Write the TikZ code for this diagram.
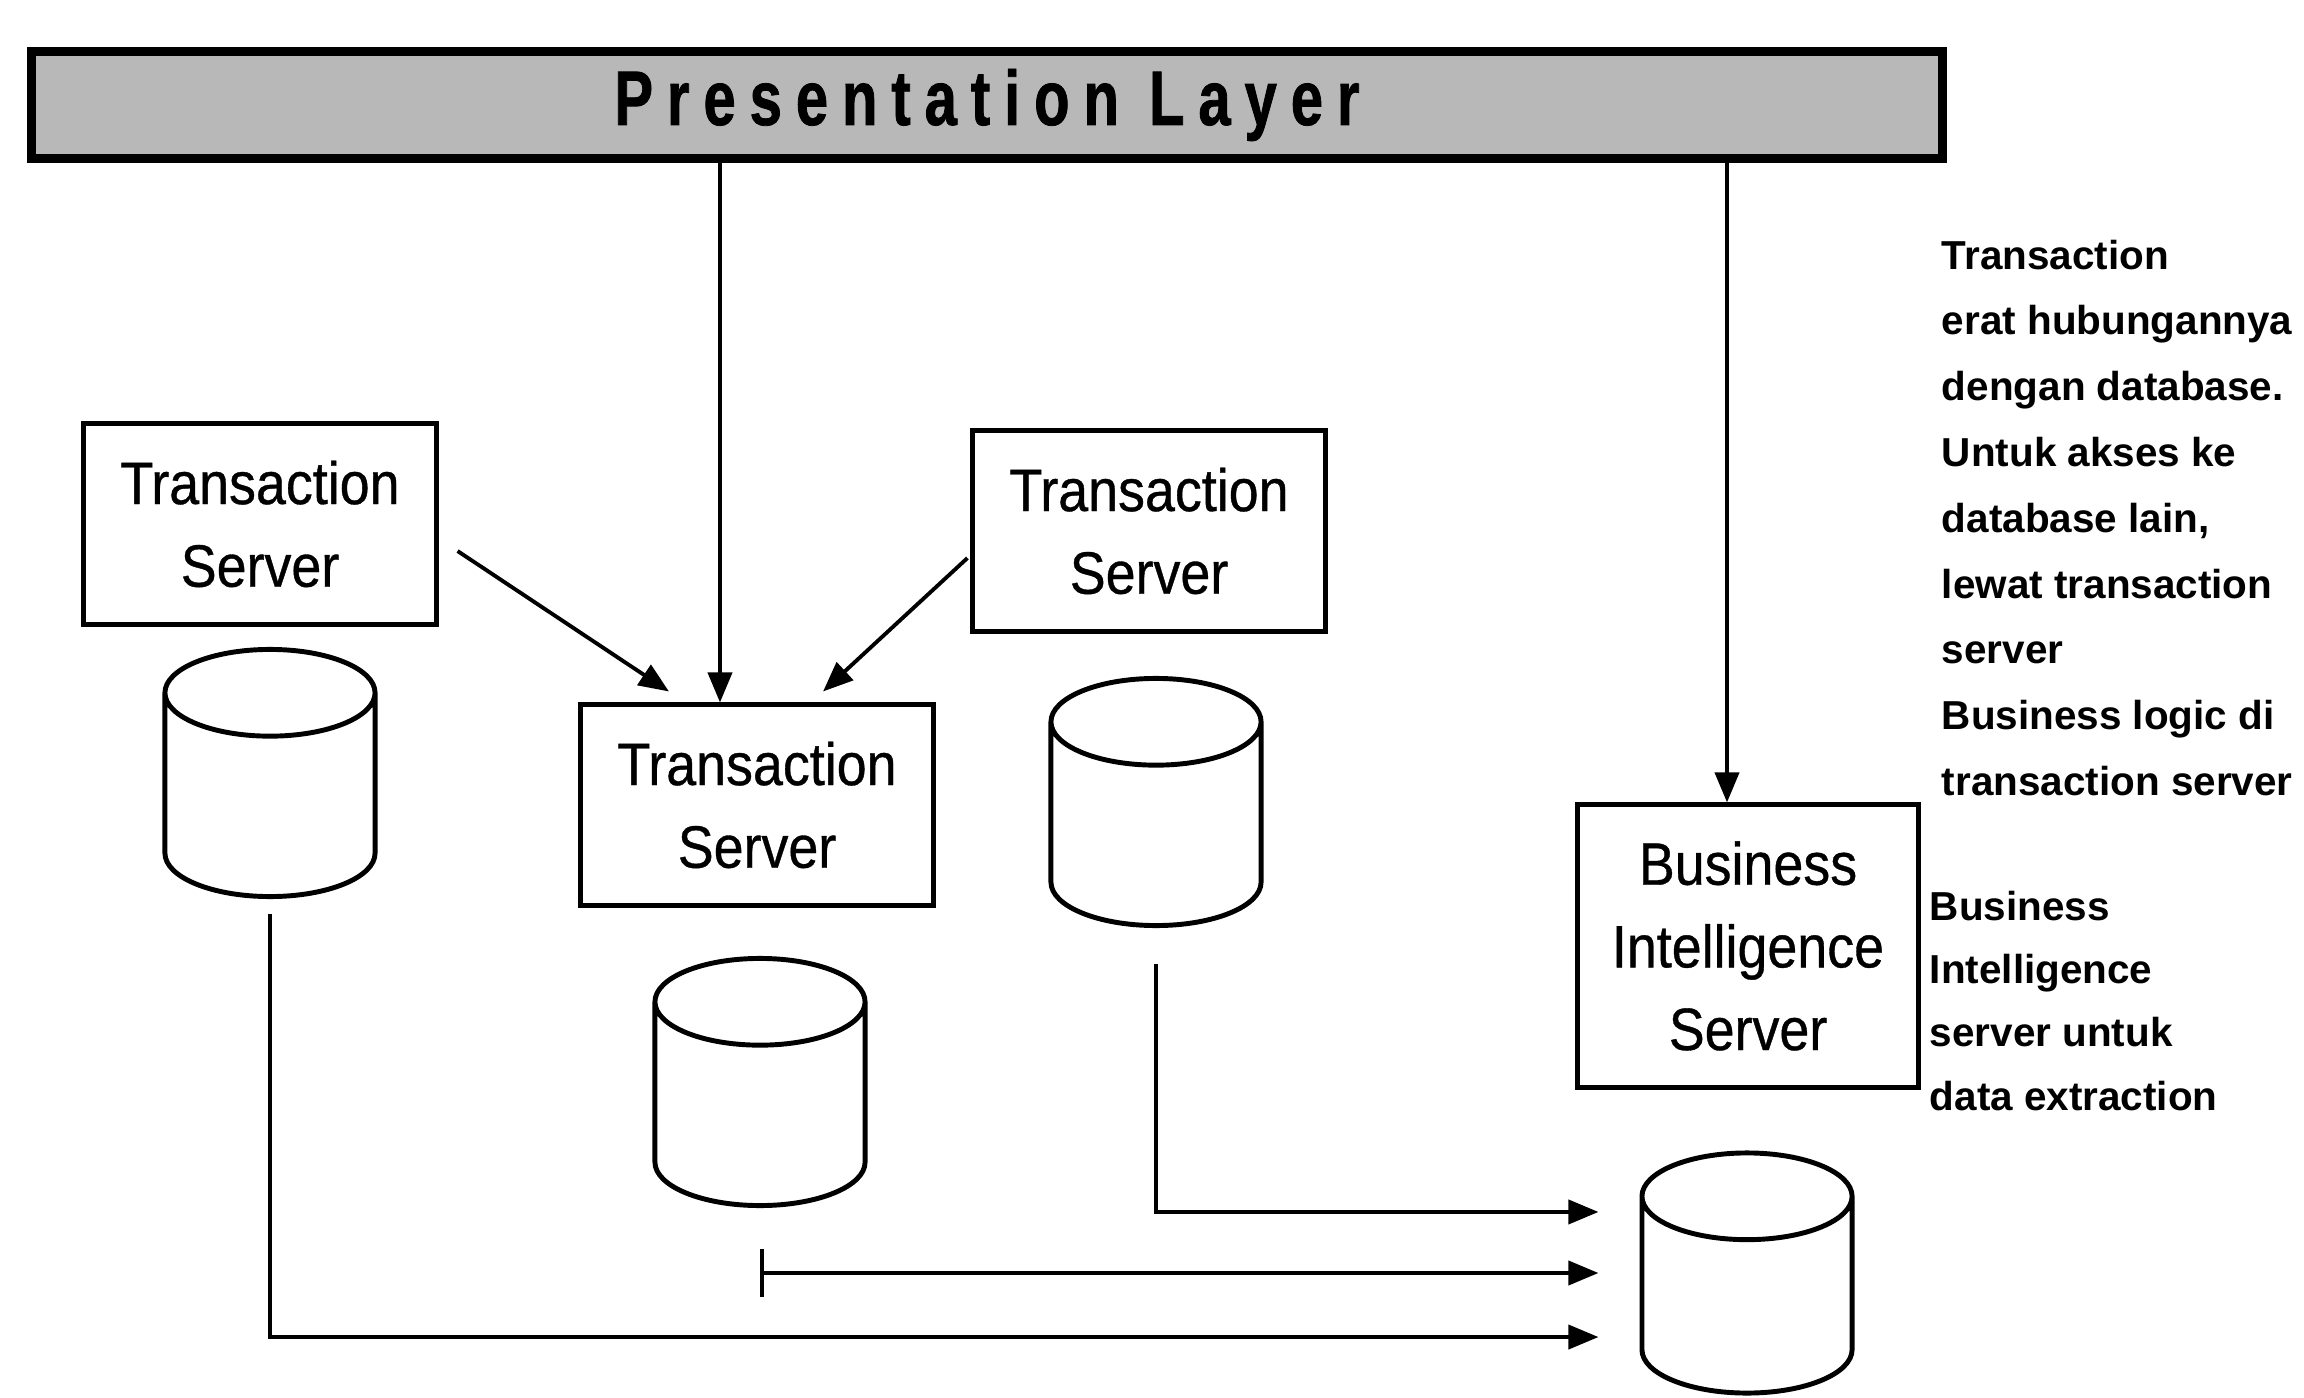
\documentclass[tikz,border=0pt]{standalone}
\usepackage{fontspec}
\setmainfont{Liberation Sans}
\newfontfamily\boxfont[FakeStretch=0.9,FakeBold=0.6]{Liberation Sans}
\newfontfamily\layerfont[FakeStretch=0.75,FakeBold=1,LetterSpace=18]{Liberation Sans}
\usetikzlibrary{shapes.geometric,arrows.meta}

\begin{document}
\begin{tikzpicture}[x=0.01cm, y=-0.01cm, line width=1.1pt, >={Triangle[length=0.3cm,width=0.24cm]}]

\tikzstyle layer=[draw, line width=2.5pt, fill=black!28, minimum width=19.1cm, minimum height=1.07cm, font=\layerfont\bfseries\fontsize{22}{26}\selectfont]
\tikzstyle server=[draw, line width=1.4pt, minimum width=3.52cm, minimum height=2cm, align=center, font=\boxfont\fontsize{17}{23.5}\selectfont]
\tikzstyle db=[draw, line width=1.4pt, cylinder, shape border rotate=90, aspect=3.7, anchor=shape center, minimum width=2.1cm, minimum height=2.47cm]
\tikzstyle note=[anchor=north west, align=left, inner sep=0pt, font=\bfseries\fontsize{11.5}{18.7}\selectfont]

\useasboundingbox (0,0) rectangle (2304,1398);

\node (pl) [layer] at (987,105) {\raisebox{-0.06cm}{Presentation Layer}};

\node (ts1) [server] at (260,524)  {Transaction\\Server};
\node (ts2) [server] at (757,805)  {Transaction\\Server};
\node (ts3) [server] at (1149,531) {Transaction\\Server};
\node (bi) [server, minimum width=3.41cm, minimum height=2.82cm] at (1748,946) {Business\\Intelligence\\Server};

\node (db1) [db] at (270,773)  {};
\node (db2) [db] at (760,1082) {};
\node (db3) [db] at (1156,802) {};
\node (db4) [db, minimum height=2.4cm] at (1747,1273) {};
\coordinate (dbin) at (db4.shape center -| db4.west);

\node (note1) [note] at (1940,238) {Transaction\\erat hubungannya\\dengan database.\\Untuk akses ke\\database lain,\\lewat transaction\\server\\Business logic di\\transaction server};
\node (note2) [note, font=\bfseries\fontsize{11.5}{18}\selectfont] at (1928,889) {Business\\Intelligence\\server untuk\\data extraction};

% calls into the transaction server
\draw [->] ([xshift=-0.37cm]ts2.north |- pl.south) -- ([xshift=-0.37cm]ts2.north);
\draw [->] ([shift={(0.19cm,-0.27cm)}]ts1.east) -- ([shift={(-0.88cm,0.11cm)}]ts2.north);
\draw [->] ([shift={(-0.03cm,-0.27cm)}]ts3.west) -- ([shift={(0.66cm,0.11cm)}]ts2.north);
\draw [->] ([xshift=-0.21cm]bi.north |- pl.south) -- ([xshift=-0.21cm]bi.north);

% extraction into the BI database
\draw [->] ([yshift=-0.36cm]db3.south) |- ([shift={(-0.41cm,0.61cm)}]dbin);
\draw [{Bar[width=0.47cm]}->] (db2.south |- dbin) -- ([xshift=-0.41cm]dbin);
\draw [->] ([yshift=-0.15cm]db1.south) |- ([shift={(-0.41cm,-0.64cm)}]dbin);

\end{tikzpicture}
\end{document}
